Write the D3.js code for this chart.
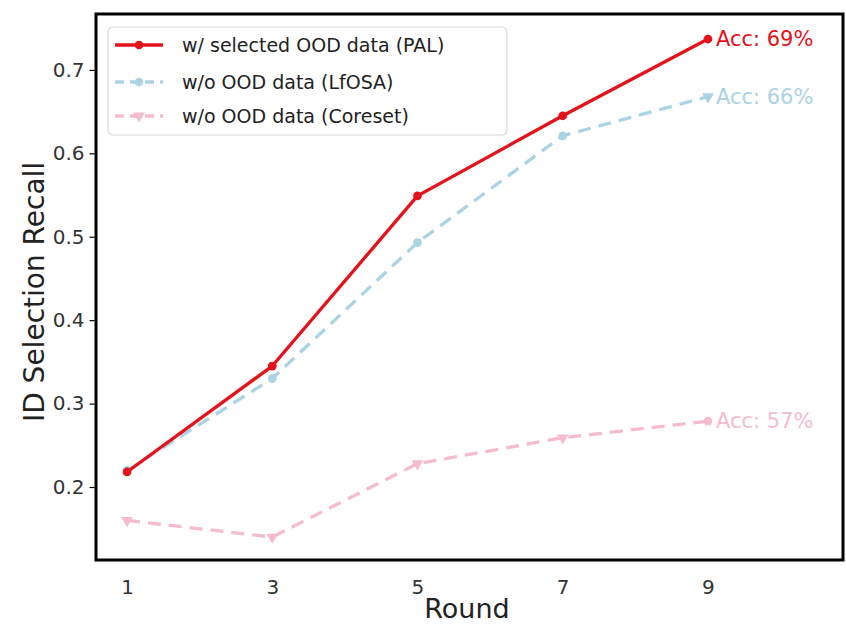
<!DOCTYPE html>
<html><head><meta charset="utf-8">
<script src="https://cdn.jsdelivr.net/npm/d3@7"></script>
<style>body{margin:0;background:#fff;} svg{display:block;}</style>
</head><body>
<script>
const rounds = [1, 3, 5, 7, 9];
const palValues = [0.218, 0.345, 0.549, 0.645, 0.737];
const lfosaValues = [0.220, 0.330, 0.493, 0.621, 0.668];
const coresetValues = [0.160, 0.140, 0.228, 0.259, 0.279];
const seriesNames = ["w/ selected OOD data (PAL)", "w/o OOD data (LfOSA)", "w/o OOD data (Coreset)"];
const accLabels = ["Acc: 69%", "Acc: 66%", "Acc: 57%"];
const yTicks = [0.2, 0.3, 0.4, 0.5, 0.6, 0.7];
const xTicks = [1, 3, 5, 7, 9];

const W = 846, H = 627;
const m = {left: 96, right: 3, top: 14, bottom: 67};
const svg = d3.select("body").append("svg").attr("width", W).attr("height", H);
const x = d3.scaleLinear().domain([0.573, 10.86]).range([m.left, W - m.right]);
const y = d3.scaleLinear().domain([0.1125, 0.767]).range([H - m.bottom, m.top]);
const font = "DejaVu Sans, Verdana, sans-serif";

const series = [
  {name: seriesNames[0], vals: palValues, color: "#e3121b", dash: null, marker: "circle", endMarker: "circle", acc: accLabels[0], width: 3.3},
  {name: seriesNames[1], vals: lfosaValues, color: "#abd3e3", dash: "13,8", marker: "circle", endMarker: "triangle", acc: accLabels[1], width: 3.3},
  {name: seriesNames[2], vals: coresetValues, color: "#f5bccb", dash: "13,8", marker: "triangle", endMarker: "circle", acc: accLabels[2], width: 3.3}
];

const line = d3.line().x(d => x(d[0])).y(d => y(d[1]));
function sym(type, size) {
  return d3.symbol().type(type === "circle" ? d3.symbolCircle : d3.symbolTriangle).size(size)();
}

[2, 1, 0].forEach(i => {
  const s = series[i];
  const pts = rounds.map((r, j) => [r, s.vals[j]]);
  svg.append("path").attr("d", line(pts)).attr("fill", "none")
    .attr("stroke", s.color).attr("stroke-width", s.width)
    .attr("stroke-dasharray", s.dash).attr("stroke-linejoin", "round");
  pts.forEach((p, j) => {
    const t = j === pts.length - 1 ? s.endMarker : s.marker;
    svg.append("path").attr("d", sym(t, 60))
      .attr("transform", `translate(${x(p[0])},${y(p[1])})` + (t === "triangle" ? " rotate(180)" : ""))
      .attr("fill", s.color);
  });
  svg.append("text").attr("x", x(9) + 8).attr("y", y(s.vals[4]))
    .attr("dy", "0.35em").attr("font-family", font).attr("font-size", 21)
    .attr("fill", s.color).text(s.acc);
});

svg.append("rect").attr("x", m.left).attr("y", m.top)
  .attr("width", W - m.right - m.left).attr("height", H - m.bottom - m.top)
  .attr("fill", "none").attr("stroke", "#000").attr("stroke-width", 3);

const yAxis = svg.append("g").attr("transform", `translate(${m.left - 1.5},0)`)
  .call(d3.axisLeft(y).tickValues(yTicks).tickFormat(d3.format(".1f")).tickSize(5).tickPadding(5));
yAxis.select(".domain").remove();
yAxis.selectAll("text").attr("font-family", font).attr("font-size", 20).attr("fill", "#333");
yAxis.selectAll("line").attr("stroke", "#000").attr("stroke-width", 1.2);

const xAxis = svg.append("g").attr("transform", `translate(0,${H - m.bottom + 1.5})`)
  .call(d3.axisBottom(x).tickValues(xTicks).tickSize(0).tickPadding(18));
xAxis.select(".domain").remove();
xAxis.selectAll("text").attr("font-family", font).attr("font-size", 20).attr("fill", "#333");

svg.append("text").attr("x", 467).attr("y", 618).attr("text-anchor", "middle")
  .attr("font-family", font).attr("font-size", 27).attr("fill", "#222").text("Round");
svg.append("text").attr("transform", "translate(44,292) rotate(-90)").attr("text-anchor", "middle")
  .attr("font-family", font).attr("font-size", 28).attr("fill", "#222").text("ID Selection Recall");

const lg = svg.append("g");
lg.append("rect").attr("x", 108).attr("y", 27).attr("width", 399).attr("height", 108)
  .attr("rx", 5).attr("fill", "#fff").attr("fill-opacity", 0.9).attr("stroke", "#d8d8d8").attr("stroke-width", 1.2);
const legY = [45, 82, 116];
series.forEach((s, i) => {
  const yy = legY[i];
  lg.append("line").attr("x1", 115).attr("x2", 163).attr("y1", yy).attr("y2", yy)
    .attr("stroke", s.color).attr("stroke-width", s.width).attr("stroke-dasharray", s.dash ? "9,6" : null);
  lg.append("path").attr("d", sym(s.marker, 60))
    .attr("transform", `translate(139,${yy})` + (s.marker === "triangle" ? " rotate(180)" : ""))
    .attr("fill", s.color);
  lg.append("text").attr("x", 182).attr("y", yy).attr("dy", "0.35em")
    .attr("font-family", font).attr("font-size", 19).attr("fill", "#222").text(s.name);
});
</script>
</body></html>
